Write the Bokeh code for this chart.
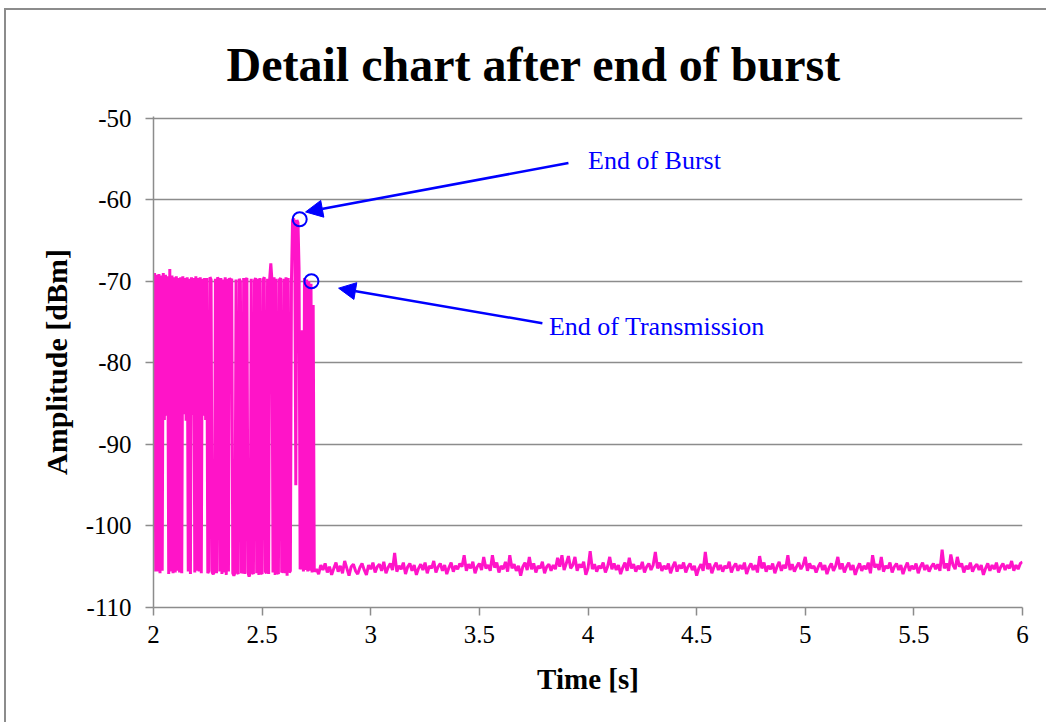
import numpy as np
from bokeh.plotting import figure
from bokeh.models import FixedTicker, Arrow, NormalHead, Label
from bokeh.embed import file_html
from bokeh.resources import INLINE

# ---------------- data ----------------
# burst part: samples every 5 ms starting at 2.000 s
burst_t0 = 2.0
burst_step = 0.005
burst_dbm = [
    -86.8, -69.0, -105.6, -69.2, -105.6, -69.1, -105.8, -69.3, -105.5, -69.0,
    -87.0, -69.2, -86.5, -69.4, -105.9, -68.5, -105.6, -69.3, -105.8, -69.5,
    -105.7, -69.4, -105.5, -69.6, -105.7, -69.5, -105.8, -69.4, -86.3, -69.6,
    -87.1, -69.5, -105.6, -69.7, -105.9, -69.5, -86.4, -69.6, -105.7, -69.4,
    -105.5, -69.6, -105.6, -69.5, -105.8, -69.7, -86.5, -69.6, -87.0,
    -69.6, -105.8, -105.5, -69.5, -69.8, -105.7, -105.9, -105.6, -69.7, -105.8,
    -69.5, -69.9, -105.6, -69.6, -105.9, -69.8, -105.7, -69.5, -106.0, -69.7,
    -105.6, -69.6, -69.9, -69.7, -105.8, -106.1, -105.7, -69.8, -105.6, -105.9,
    -69.7, -70.0, -105.8, -105.5, -69.6, -105.9, -69.8, -69.6, -105.7, -106.2,
    -105.8, -69.7, -105.6, -105.9, -69.9, -69.6, -105.8, -69.7, -106.0, -69.6,
    -105.7, -105.9, -69.8, -69.5, -105.6, -105.8, -69.7, -105.9, -69.6, -67.8,
    -69.8, -105.7, -69.5, -106.0, -69.7, -105.6, -105.9, -69.8, -69.6, -105.7,
    -105.5, -69.7, -105.8, -69.5, -106.1, -69.6, -105.7, -105.5, -70.0, -62.6,
    -62.3, -63.0, -95.0, -62.5, -62.8, -68.4, -105.3, -105.0, -76.0, -105.6,
    -69.6, -105.4, -69.8, -105.6, -70.0, -105.5, -70.3, -105.7, -72.9,
]

# noise floor after end of transmission: samples every 10 ms starting at 2.74 s
noise_t0 = 2.74
noise_step = 0.01
noise_dbm = [
    -105.6, -105.3, -105.9, -104.8, -105.4, -104.6, -105.7, -105.0, -106.0, -105.2,
    -104.5, -105.6, -104.9, -105.8, -104.3, -105.2, -106.1, -105.0, -104.7, -105.5,
    -105.9, -105.1, -104.6, -105.4, -106.0, -104.8, -105.3, -104.5, -105.7, -105.0,
    -104.7, -105.5, -104.4, -105.8, -105.1, -104.6, -105.4, -103.3, -105.6, -104.9,
    -105.3, -104.5, -105.9, -105.0, -104.6, -105.5, -104.8, -106.0, -105.2, -104.7,
    -105.4, -104.5, -105.8, -104.9, -105.2, -104.3, -105.7, -105.0, -104.6, -105.5,
    -104.8, -105.9, -105.1, -104.5, -105.6, -104.9, -105.3, -104.6, -105.0, -103.6,
    -105.5, -104.7, -105.2, -104.4, -105.8, -105.0, -104.6, -105.4, -103.8, -105.2,
    -104.8, -105.5, -103.6, -105.1, -104.5, -105.7, -104.9, -105.3, -104.4, -105.6,
    -103.6, -105.2, -104.7, -105.5, -104.9, -106.1, -105.0, -104.5, -105.4, -103.8,
    -105.3, -104.6, -105.7, -104.9, -105.2, -104.4, -105.8, -105.0, -104.7, -105.5,
    -104.8, -105.3, -103.9, -105.0, -103.6, -105.4, -104.6, -103.7, -105.2, -104.8,
    -103.8, -105.5, -104.7, -105.1, -104.4, -106.0, -105.2, -103.1, -105.3, -104.7,
    -105.6, -104.9, -105.2, -104.5, -105.7, -105.0, -103.8, -105.3, -104.6, -105.4,
    -104.8, -105.9, -105.1, -104.5, -105.5, -103.9, -105.2, -104.7, -105.6, -104.9,
    -105.3, -104.4, -105.7, -105.0, -104.6, -105.4, -104.8, -103.2, -105.2, -104.5,
    -105.5, -104.9, -105.3, -104.6, -105.8, -105.0, -104.4, -105.6, -104.8, -105.2,
    -104.5, -105.7, -105.0, -104.6, -105.4, -104.9, -106.1, -105.2, -104.7, -105.5,
    -103.2, -105.3, -104.6, -105.8, -105.0, -104.5, -105.4, -104.8, -105.6, -104.9,
    -105.2, -104.4, -105.7, -105.0, -104.6, -105.5, -104.8, -105.3, -104.5, -105.9,
    -105.1, -104.6, -105.4, -104.8, -105.7, -103.7, -105.2, -104.5, -105.6, -104.9,
    -105.3, -104.6, -105.8, -105.0, -104.4, -105.5, -104.8, -105.2, -103.6, -105.4,
    -104.7, -105.6, -105.0, -104.5, -105.3, -104.8, -103.8, -105.5, -104.6, -105.2,
    -104.9, -105.7, -105.0, -104.5, -105.4, -104.8, -105.9, -105.1, -104.6, -105.5,
    -104.9, -103.8, -105.3, -104.6, -105.7, -105.0, -104.5, -105.4, -104.8, -106.0,
    -105.2, -104.6, -105.5, -104.9, -105.3, -104.5, -105.8, -103.6, -105.1, -104.7,
    -105.4, -103.8, -105.6, -104.9, -105.2, -104.5, -105.7, -105.0, -104.6, -105.4,
    -104.8, -105.9, -105.1, -104.5, -105.5, -104.9, -105.3, -104.6, -105.8, -105.0,
    -104.5, -105.4, -104.8, -105.6, -105.0, -104.6, -105.3, -104.7, -105.5, -102.9,
    -105.2, -104.6, -105.5, -103.5, -104.8, -105.3, -103.8, -105.0, -104.6, -105.7,
    -104.9, -105.3, -104.5, -105.6, -105.0, -104.7, -105.4, -104.8, -106.0, -105.2,
    -104.6, -105.5, -104.8, -105.3, -104.5, -105.7, -105.0, -104.6, -105.4, -104.8,
    -105.2, -104.3, -105.5, -104.8, -105.3, -104.6, -104.4,
]

x_ticks = [2, 2.5, 3, 3.5, 4, 4.5, 5, 5.5, 6]
x_tick_labels = ["2", "2.5", "3", "3.5", "4", "4.5", "5", "5.5", "6"]
y_ticks = [-110, -100, -90, -80, -70, -60, -50]
y_tick_labels = ["-110", "-100", "-90", "-80", "-70", "-60", "-50"]

title_text = "Detail chart after end of burst"
# annotated points (time s, amplitude dBm)
burst_end = (2.673, -62.4)
transmission_end = (2.727, -70.0)
burst_text = "End of Burst"
transmission_text = "End of Transmission"
# text / arrow placement (data coordinates)
burst_arrow = (3.91, -55.5, 2.70, -61.5)
burst_label = (4.00, -55.2)
trans_arrow = (3.79, -75.15, 2.852, -70.85)
trans_label = (3.82, -75.5)

# ---------------- figure ----------------
t = list(burst_t0 + burst_step * np.arange(len(burst_dbm))) + \
    list(noise_t0 + noise_step * np.arange(len(noise_dbm)))
v = burst_dbm + noise_dbm

SERIF = "Liberation Serif"
GRAY = "#8c8c8c"
BLUE = "#0000ff"

# chart-area border (left and top edge) drawn as page background behind a transparent canvas
border_css = {
    "background-color": "white",
    "background-image": "linear-gradient(#8c8c8c, #8c8c8c), linear-gradient(#8c8c8c, #8c8c8c)",
    "background-size": "2px 100%, 100% 2px",
    "background-position": "4px 8px, 4px 8px",
    "background-repeat": "no-repeat",
    "overflow": "hidden",
}

p = figure(width=1046, height=722, x_range=(2, 6), y_range=(-110, -49.8),
           output_backend="svg", toolbar_location=None,
           min_border_left=153, min_border_right=24,
           min_border_top=116, min_border_bottom=115,
           styles=border_css)
p.outline_line_color = None
p.background_fill_color = "white"
p.border_fill_color = "white"
p.border_fill_alpha = 0

p.title.text = title_text
p.title.text_font = SERIF
p.title.text_font_size = "48px"
p.title.text_font_style = "bold"
p.title.text_color = "black"
p.title.align = "left"
p.title.offset = 73
p.title.standoff = 52

def key(x):
    return int(x) if float(x).is_integer() else x

p.xaxis.ticker = FixedTicker(ticks=x_ticks)
p.xaxis.major_label_overrides = {key(a): b for a, b in zip(x_ticks, x_tick_labels)}
p.yaxis.ticker = FixedTicker(ticks=y_ticks)
p.yaxis.major_label_overrides = {key(a): b for a, b in zip(y_ticks, y_tick_labels)}

for ax in (p.xaxis, p.yaxis):
    ax.axis_line_color = GRAY
    ax.axis_line_width = 1.5
    ax.major_tick_line_color = GRAY
    ax.major_tick_line_width = 1.5
    ax.major_tick_out = 8
    ax.major_tick_in = 0
    ax.minor_tick_line_color = None
    ax.major_label_text_font = SERIF
    ax.major_label_text_font_size = "25px"
    ax.major_label_text_color = "black"
    ax.axis_label_text_font = SERIF
    ax.axis_label_text_font_size = "29px"
    ax.axis_label_text_font_style = "bold"
    ax.axis_label_text_color = "black"

p.xaxis.axis_label = "Time [s]"
p.yaxis.axis_label = "Amplitude [dBm]"
p.yaxis.axis_label_text_font_size = "30px"
p.xaxis.major_label_standoff = 10
p.yaxis.major_label_standoff = 14
p.xaxis.axis_label_standoff = 17
p.yaxis.axis_label_standoff = 10

p.xgrid.grid_line_color = None
p.ygrid.ticker = FixedTicker(ticks=y_ticks)
p.ygrid.grid_line_color = GRAY
p.ygrid.grid_line_width = 1.5

p.line(t, v, line_color="#ff14c8", line_width=3)

p.scatter(x=[burst_end[0], transmission_end[0]], y=[burst_end[1], transmission_end[1]],
          marker="circle", size=14, fill_color=None, line_color=BLUE, line_width=2)

for (xs, ys, xe, ye) in (burst_arrow, trans_arrow):
    p.add_layout(Arrow(end=NormalHead(size=17, fill_color=BLUE, line_color=BLUE),
                       x_start=xs, y_start=ys, x_end=xe, y_end=ye,
                       line_color=BLUE, line_width=2.5))

for (lx, ly), txt in ((burst_label, burst_text), (trans_label, transmission_text)):
    p.add_layout(Label(x=lx, y=ly, text=txt, text_font=SERIF, text_font_size="26px",
                       text_color=BLUE, text_baseline="middle", text_align="left"))

open("out.html", "w").write(file_html(p, INLINE))
